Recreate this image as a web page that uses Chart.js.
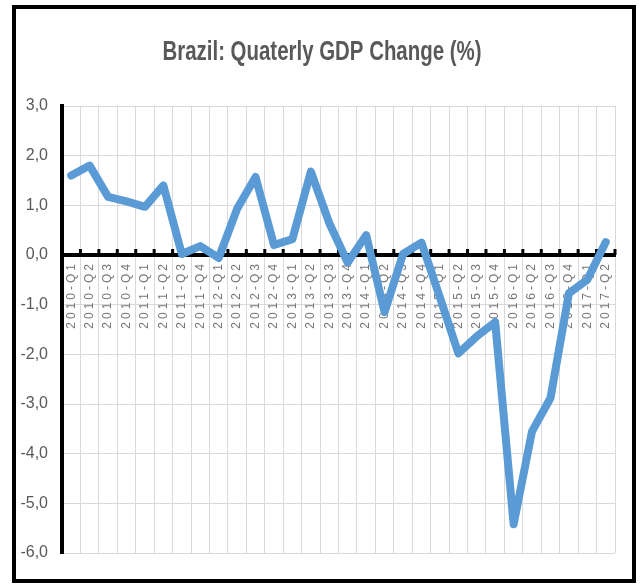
<!DOCTYPE html>
<html>
<head>
<meta charset="utf-8">
<title>Brazil GDP</title>
<script src="https://cdn.jsdelivr.net/npm/chart.js"></script>
<style>
  html, body { margin: 0; padding: 0; background: #fff; }
  #frame {
    position: absolute;
    left: 12px; top: 5px;
    width: 616px; height: 570px;
    border: 4px solid #000;
    background: #fff;
  }
</style>
</head>
<body>
<div id="frame"><canvas id="gdpChart"></canvas></div>
<script>
// quarters shown on the x axis
const quarters = [
    '2010-Q1', '2010-Q2', '2010-Q3', '2010-Q4',
    '2011-Q1', '2011-Q2', '2011-Q3', '2011-Q4',
    '2012-Q1', '2012-Q2', '2012-Q3', '2012-Q4',
    '2013-Q1', '2013-Q2', '2013-Q3', '2013-Q4',
    '2014-Q1', '2014-Q2', '2014-Q3', '2014-Q4',
    '2015-Q1', '2015-Q2', '2015-Q3', '2015-Q4',
    '2016-Q1', '2016-Q2', '2016-Q3', '2016-Q4',
    '2017-Q1', '2017-Q2'
];

// quarterly change in %
const gdpChange = [
    1.60, 1.80, 1.17, 1.08,
    0.97, 1.40, 0.02, 0.18,
    -0.06, 0.93, 1.57, 0.20,
    0.32, 1.68, 0.64, -0.15,
    0.40, -1.15, 0.02, 0.25,
    -0.85, -1.98, -1.64, -1.35,
    -5.42, -3.55, -2.88, -0.77,
    -0.50, 0.26
];

const yMin = -6;
const yMax = 3;
const chartTitle = 'Brazil: Quaterly GDP Change (%)';

// small black tick marks sitting on top of the zero axis
const axisTicks = {
    id: 'axisTicks',
    beforeDatasetsDraw(chart) {
        const x = chart.scales.x;
        const y0 = chart.scales.y.getPixelForValue(0);
        const n = quarters.length;
        const c = chart.ctx;
        c.save();
        c.strokeStyle = '#000';
        c.lineWidth = 3;
        for (let i = 1; i <= n; i++) {
            const px = x.left + i * (x.width / n);
            c.beginPath();
            c.moveTo(px, y0);
            c.lineTo(px, y0 - 6);
            c.stroke();
        }
        c.restore();
    }
};

// title squeezed a bit so it looks like the narrow font of the original
const narrowTitle = {
    id: 'narrowTitle',
    afterDraw(chart) {
        const c = chart.ctx;
        c.save();
        c.fillStyle = '#595959';
        c.font = 'bold 27px "Liberation Sans", Arial, sans-serif';
        c.textAlign = 'center';
        c.textBaseline = 'alphabetic';
        c.fillText(chartTitle, 306, 51, 319);
        c.restore();
    }
};

new Chart(document.getElementById('gdpChart'), {
    type: 'line',
    data: {
        labels: quarters,
        datasets: [{
            data: gdpChange,
            borderColor: '#5B9BD5',
            borderWidth: 8,
            borderJoinStyle: 'round',
            borderCapStyle: 'round',
            pointRadius: 0,
            tension: 0,
            fill: false
        }]
    },
    options: {
        responsive: true,
        maintainAspectRatio: false,
        animation: false,
        layout: { padding: { top: 97, right: 17, bottom: 26, left: 0 } },
        plugins: {
            legend: { display: false },
            tooltip: { enabled: false },
            title: { display: false }
        },
        scales: {
            x: {
                type: 'category',
                position: { y: 0 },
                offset: true,
                grid: { color: '#d9d9d9', lineWidth: 1, offset: true, drawTicks: false },
                border: { color: '#000', width: 4 },
                ticks: {
                    color: '#777',
                    font: { family: '"Liberation Sans", Arial, sans-serif', size: 12 },
                    minRotation: 90,
                    maxRotation: 90,
                    autoSkip: false,
                    padding: 9,
                    callback: function (v) {
                        return quarters[v].split('').join('\u2005');
                    }
                }
            },
            y: {
                min: yMin,
                max: yMax,
                afterFit: s => { s.width = 46; },
                grid: { color: '#d9d9d9', lineWidth: 1, drawTicks: false },
                border: { color: '#000', width: 4 },
                ticks: {
                    stepSize: 1,
                    padding: 14,
                    color: '#595959',
                    font: { family: '"Liberation Sans", Arial, sans-serif', size: 16 },
                    callback: v => v.toFixed(1).replace('.', ',')
                }
            }
        }
    },
    plugins: [axisTicks, narrowTitle]
});
</script>
</body>
</html>
